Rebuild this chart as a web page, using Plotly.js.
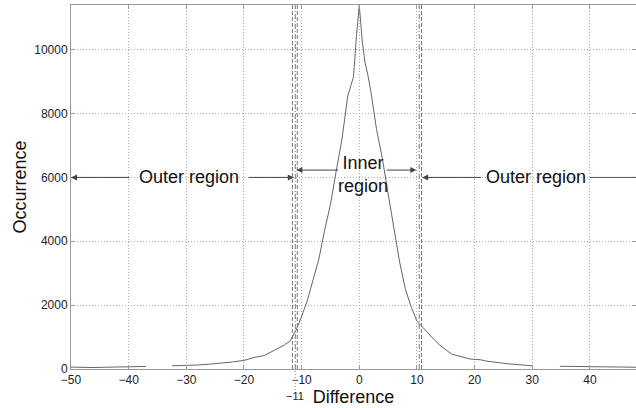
<!DOCTYPE html>
<html>
<head>
<meta charset="utf-8">
<script src="https://cdn.plot.ly/plotly-3.0.1.min.js"></script>
<style>html,body{margin:0;padding:0;background:#fff;}#chart{width:636px;height:408px;}</style>
</head>
<body>
<div id="chart"></div>
<script>
// Histogram of differences
const diffX = [-50,-48,-46,-44,-42,-40,-38,-37,-36,-33,-32.5,-30,-28,-26,-24,-22,-20,-18,-16.5,-15,-13,-12,-11,-10,-9,-8,-7,-6,-5,-4,-3,-2,-1,-0.5,0,0.5,1,1.5,2,3,4,5,6,7,8,9,10,11,12,13,14,15,16,17,18,19,20,21,22,23,24,25,26,27,28,29,30,31,34.8,37,40,42,44,46,48];
const occurrence = [60,50,45,55,60,75,70,80,null,null,100,105,125,150,180,220,270,370,420,560,750,880,1200,1650,2150,2800,3450,4350,5150,6200,7200,8550,9150,10400,11400,10300,9600,9200,8700,7500,6600,5500,4400,3350,2500,1950,1500,1300,1130,920,740,600,470,420,370,320,300,290,250,220,200,180,160,140,125,110,100,null,85,80,75,70,68,60,55];

// Threshold lines
const dashedLines = [-11.6, -10.75, 10.8];
const dashDotLines = [-11.1, 10.4];

const xTickVals = [-50,-40,-30,-20,-10,0,10,20,30,40];
const yTickVals = [0,2000,4000,6000,8000,10000];

const regionY = 6000;
const innerY = 6230;

const labels = {outer: 'Outer region', inner: 'Inner<br>region', xTitle: 'Difference', yTitle: 'Occurrence', extraTick: '\u221211'};

const font = 'Liberation Sans, Arial, Helvetica, sans-serif';
const lineCol = '#666';
const gridDash = '1px,2px';

const shapes = [];
dashedLines.forEach(v => shapes.push({type:'line', xref:'x', yref:'paper', x0:v, x1:v, y0:0, y1:1, line:{color:'#777', width:1, dash:'4px,2px'}}));
dashDotLines.forEach(v => shapes.push({type:'line', xref:'x', yref:'paper', x0:v, x1:v, y0:0, y1:1, line:{color:'#777', width:1, dash:'5px,2px,1px,2px'}}));
// -11 line extends below the axis to its label
shapes.push({type:'line', xref:'x', yref:'paper', x0:dashDotLines[0], x1:dashDotLines[0], y0:-0.058, y1:0, line:{color:'#888', width:1, dash:'1px,2px'}});
// right outer tail line (no arrow head)
shapes.push({type:'line', xref:'x', yref:'y', x0:40.0, x1:48, y0:regionY, y1:regionY, line:{color:'#555', width:1}});

function arrow(xHead, xTail, y) {
  return {x:xHead, y:y, ax:xTail, ay:y, xref:'x', yref:'y', axref:'x', ayref:'y', text:'', showarrow:true, arrowhead:2, arrowsize:1.2, arrowwidth:1, arrowcolor:'#444'};
}
const annotations = [
  arrow(-50, -39.6, regionY),
  arrow(-11.35, -19.4, regionY),
  arrow(-10.9, -3.4, innerY),
  arrow(9.9, 4.5, innerY),
  arrow(10.9, 21.4, regionY),
  {x:-29.5, y:regionY, xref:'x', yref:'y', text:labels.outer, showarrow:false, font:{family:font, size:18, color:'#111'}},
  {x:0.6, y:6100, xref:'x', yref:'y', text:labels.inner, showarrow:false, font:{family:font, size:18, color:'#111'}},
  {x:30.7, y:regionY, xref:'x', yref:'y', text:labels.outer, showarrow:false, font:{family:font, size:18, color:'#111'}},
  {x:dashDotLines[0], y:-0.074, xref:'x', yref:'paper', text:labels.extraTick, showarrow:false, yanchor:'middle', font:{family:font, size:11, color:'#222'}}
];

const trace = {x: diffX, y: occurrence, type:'scatter', mode:'lines', line:{color:lineCol, width:1}, connectgaps:false, hoverinfo:'skip'};

const layout = {
  width:636, height:408,
  margin:{l:71, r:0, t:5, b:39},
  paper_bgcolor:'#fff', plot_bgcolor:'#fff',
  showlegend:false,
  font:{family:font, size:12, color:'#222'},
  xaxis:{range:[-50,48], tickvals:xTickVals, ticktext:xTickVals.map(v=>v<0?'\u2212'+Math.abs(v):String(v)), showgrid:true, gridcolor:'#aaa', griddash:gridDash, gridwidth:1, zeroline:false, showline:true, linecolor:'#999', linewidth:1, mirror:'ticks', ticks:'inside', ticklen:4, tickcolor:'#999', title:{text:labels.xTitle, font:{family:font, size:18, color:'#111'}, standoff:2}, tickfont:{family:font, size:12, color:'#222'}},
  yaxis:{range:[0,11400], tickvals:yTickVals, ticktext:yTickVals.map(String), showgrid:true, gridcolor:'#aaa', griddash:gridDash, gridwidth:1, zeroline:false, showline:true, linecolor:'#999', linewidth:1, mirror:'ticks', ticks:'inside', ticklen:4, tickcolor:'#999', title:{text:labels.yTitle, font:{family:font, size:18, color:'#111'}, standoff:2}, tickfont:{family:font, size:12, color:'#222'}},
  shapes:shapes,
  annotations:annotations
};

Plotly.newPlot('chart', [trace], layout, {displayModeBar:false, staticPlot:true});
</script>
</body>
</html>
